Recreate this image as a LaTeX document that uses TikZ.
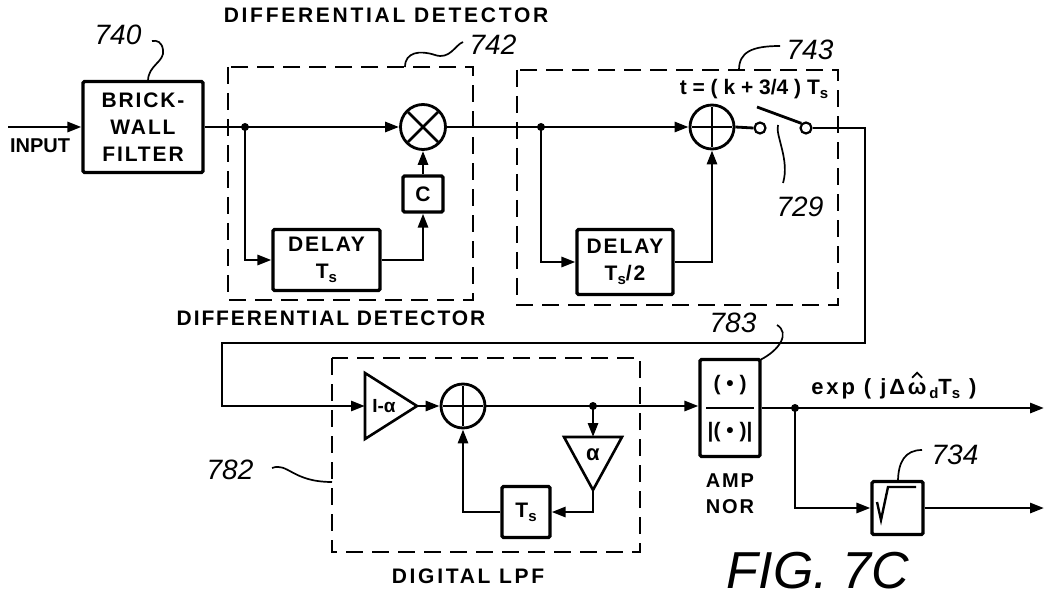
\documentclass[tikz,border=0pt]{standalone}
\usepackage{fontspec}
\setmainfont{Liberation Sans}
\newfontfamily\lbl[LetterSpace=9]{Liberation Sans}
\newfontfamily\lblw[LetterSpace=13]{Liberation Sans}
\usetikzlibrary{arrows.meta,calc}
\newcommand{\subs}[1]{\raisebox{-4pt}{\fontsize{15}{15}\selectfont #1}}
\begin{document}
\begin{tikzpicture}[x=1pt,y=-1pt,line width=2.8pt,
  arr/.style={-{Triangle[length=14pt,width=10pt]}},
  blk/.style={draw,line width=3.2pt,rounded corners=1.5pt,inner sep=0pt,align=center,font=\lbl\bfseries\fontsize{21}{27}\selectfont},
  sumnode/.style={draw,circle,line width=2.8pt,inner sep=0pt,minimum size=45pt},
  dbox/.style={draw,line width=2.6pt,dash pattern=on 17pt off 9pt},
  lead/.style={line width=1.7pt},
  num/.style={font=\itshape\fontsize{28}{28}\selectfont,inner sep=0pt},
  caplbl/.style={font=\lbl\bfseries\fontsize{21}{24}\selectfont,inner sep=0pt},
  caplblw/.style={font=\lblw\bfseries\fontsize{21}{24}\selectfont,inner sep=0pt},
  explbl/.style={font=\lblw\bfseries\fontsize{22}{22}\selectfont,inner sep=0pt,anchor=base west},
  dot/.style={circle,fill,inner sep=0pt,minimum size=8pt},
  contact/.style={circle,draw,line width=2.2pt,fill=white,inner sep=0pt,minimum size=11pt}]
\useasboundingbox (0,0) rectangle (1046,601);

% ---------- dashed boxes ----------
\draw[dbox] (228,67) rectangle (473,300);
\draw[dbox] (517,70) rectangle (838,305);
\draw[dbox] (332,358) rectangle (640,552);

% ---------- blocks ----------
\node[blk,minimum width=120pt,minimum height=91pt] (brick) at (143,127) {BRICK-\\WALL\\FILTER};
\node[sumnode] (mult) at (423,127) {};
\draw ($(mult.center)+(-15,-15)$) -- ($(mult.center)+(15,15)$);
\draw ($(mult.center)+(-15,15)$) -- ($(mult.center)+(15,-15)$);
\node[blk,minimum width=107pt,minimum height=61pt] (d1) at (326.5,260) {DELAY\\T\subs{s}};
\node[blk,minimum width=40pt,minimum height=36pt] (c) at (423,194) {C};

\node[sumnode,minimum size=44pt] (add1) at (712,127) {};
\draw ($(add1.center)+(-20,0)$) -- ($(add1.center)+(20,0)$);
\draw ($(add1.center)+(0,-20)$) -- ($(add1.center)+(0,20)$);
\node[blk,minimum width=96pt,minimum height=65pt] (d2) at (625,262) {DELAY\\T\subs{s}/2};
\node[contact] (sw1) at (760,128) {};
\node[contact] (sw2) at (806,128) {};
\coordinate (blade) at (757,107);

% LPF
\draw[line width=2.6pt] (365,373) -- (417,406) -- (365,439) -- cycle;
\coordinate (t1in) at (365,406);
\coordinate (t1out) at (417,406);
\node[font=\bfseries\fontsize{19}{20}\selectfont,inner sep=0pt] (t1lab) at (384,406) {I-α};
\node[sumnode,minimum size=44pt] (add2) at (463,406) {};
\draw ($(add2.center)+(-20,0)$) -- ($(add2.center)+(20,0)$);
\draw ($(add2.center)+(0,-20)$) -- ($(add2.center)+(0,20)$);
\draw[line width=2.6pt] (564,437) -- (622,437) -- (593,490) -- cycle;
\coordinate (t2in) at (593,437);
\coordinate (t2out) at (593,490);
\node[font=\bfseries\fontsize{22}{22}\selectfont,inner sep=0pt] (t2lab) at (593,455) {α};
\node[blk,minimum width=48pt,minimum height=51pt] (ts) at (526,512) {T\subs{s}};

% AMP NOR
\node[draw,line width=3.2pt,rounded corners=1.5pt,minimum width=60pt,minimum height=97pt,inner sep=0pt] (amp) at (730,408) {};
\node[font=\fontsize{21}{21}\selectfont\bfseries,inner sep=0pt] (ampnum) at (730,385) {( • )};
\node[font=\fontsize{21}{21}\selectfont\bfseries,inner sep=0pt] (ampden) at (730,432) {|( • )|};
\draw[line width=2.6pt] (706,408) -- (754,408);
\node[inner sep=0pt,align=center,font=\lbl\bfseries\fontsize{20}{26}\selectfont] (ampl) at (730,494) {AMP\\NOR};

% sqrt
\node[blk,minimum width=51pt,minimum height=53pt] (sq) at (897.5,508) {};
\draw[line width=2.4pt] (877,502) -- (881,520) -- (888,487) -- (916,487);

% ---------- connectors ----------
\coordinate (in) at (8,127);
\draw[arr] (in) -- (brick.west);
\node[dot] (j1) at (245,127) {};
\draw[arr] (brick.east) -- (mult.west);
\draw[arr] (j1.center) |- (d1.west);
\draw[arr] (d1.east) -| (c.south);
\draw[arr] (c.north) -- (mult.south);
\node[dot] (j2) at (541,127) {};
\draw (mult.east) -- (j2.center);
\draw[arr] (j2.center) -- (add1.west);
\draw[arr] (j2.center) |- (d2.west);
\draw[arr] (d2.east) -| (add1.south);
\draw (add1.east) -- (sw1.west);
\draw (sw2.north west) -- (blade);
\coordinate (r1) at (865,128);
\coordinate (r2) at (865,343);
\coordinate (l1) at (222,343);
\coordinate (l2) at (222,406);
\draw[arr] (sw2.east) -- (r1) -- (r2) -- (l1) -- (l2) -- (t1in);
\draw[arr] (t1out) -- (add2.west);
\node[dot] (j3) at (593,406) {};
\draw (add2.east) -- (j3.center);
\draw[arr] (j3.center) -- (amp.west |- j3);
\draw[arr] (j3.center) -- (t2in);
\coordinate (f1) at (593,512);
\draw[arr] (t2out) -- (f1) -- (ts.east);
\draw[arr] (ts.west) -| (add2.south);
\node[dot] (j4) at (795,408) {};
\coordinate (out1) at (1044,408);
\coordinate (out2) at (1044,508);
\draw (amp.east |- j4) -- (j4.center);
\draw[arr] (j4.center) -- (out1);
\draw[arr] (j4.center) |- (sq.west);
\draw[arr] (sq.east) -- (out2);

% ---------- labels ----------
\node[font=\bfseries\fontsize{20}{20}\selectfont,inner sep=0pt] (inlab) at (40,146) {INPUT};
\node[caplblw] (ddtop) at (386,15) {DIFFERENTIAL  DETECTOR};
\node[caplbl] (ddbot) at (331,318) {DIFFERENTIAL  DETECTOR};
\node[caplblw] (lpf) at (468,576) {DIGITAL  LPF};
\node[font=\bfseries\fontsize{21}{21}\selectfont,inner sep=0pt] (tlab) at (754,89) {t = ( k + 3/4 ) T\subs{s}};

\node[explbl] (explab) at (810,394) {exp ( jΔ};
\node[explbl] (om) at (explab.base east) {ω};
\draw[line width=1.8pt] ($(om.north)+(-5,-3)$) -- ($(om.north)+(0,-8)$) -- ($(om.north)+(5,-3)$);
\node[explbl] (exprest) at (om.base east) {\subs{d}T\subs{s} )};

\node[font=\itshape\fontsize{52}{52}\selectfont,inner sep=0pt] (fig) at (818,571) {FIG. 7C};

\node[num] (n740) at (118,35) {740};
\node[num] (n742) at (493,45) {742};
\node[num] (n743) at (810,50) {743};
\node[num] (n729) at (800,207) {729};
\node[num] (n782) at (230,470) {782};
\node[num] (n783) at (733,323) {783};
\node[num] (n734) at (955,455) {734};

\draw[lead] (148,81) .. controls (148,65) and (165,62) .. (163,50) .. controls (162,42) and (157,40) .. (152,41);
\draw[lead] (405,67) .. controls (405,52) and (420,50) .. (435,55) .. controls (450,60) and (455,45) .. (463,42);
\draw[lead] (739,70) .. controls (739,52) and (752,46) .. (780,46);
\draw[lead] (778,125) .. controls (775,135) and (790,160) .. (783,183);
\draw[lead] (272,468) .. controls (288,462) and (292,482) .. (332,482);
\draw[lead] (777,325) .. controls (790,333) and (780,350) .. (760,360);
\draw[lead] (898,482) .. controls (898,462) and (905,450) .. (922,450);
\end{tikzpicture}
\end{document}
